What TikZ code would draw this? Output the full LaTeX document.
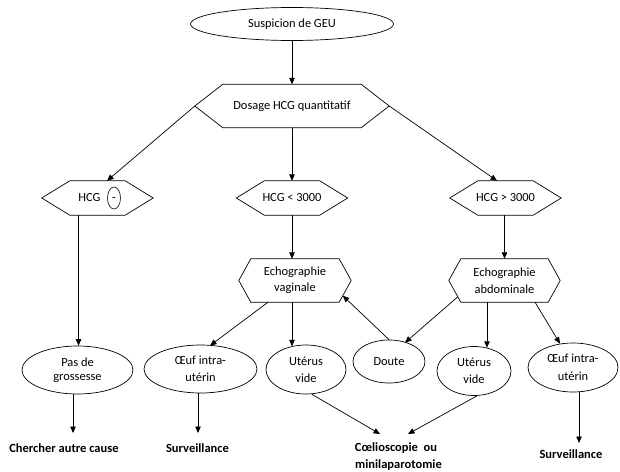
\documentclass[tikz,border=0pt]{standalone}
\usepackage{fontspec}
\setmainfont{Carlito}
\usetikzlibrary{shapes.geometric,arrows.meta,calc}
\newcommand{\hexshape}[2]{%
  \draw[lw] (#1.west) -- ($(#1.north west)+(#2,0)$) -- ($(#1.north east)+(-#2,0)$) -- (#1.east)
    -- ($(#1.south east)+(-#2,0)$) -- ($(#1.south west)+(#2,0)$) -- cycle;}
\begin{document}
\begin{tikzpicture}[x=1pt,y=-1pt,
  lw/.style={line width=0.7pt},
  arr/.style={line width=0.7pt,-{Triangle[length=6.5pt,width=5.5pt]}},
  txt/.style={font=\fontsize{12.4}{14}\selectfont},
  ell/.style={ellipse,draw,line width=0.7pt,inner sep=0pt,align=center,txt},
  hexbox/.style={rectangle,inner sep=0pt,align=center,txt},
  btext/.style={font=\fontsize{12.5}{15}\selectfont\bfseries,inner sep=0pt,text height=8.5pt,text depth=2.5pt}]
\useasboundingbox (0,0) rectangle (620,471);
% top
\node[ell,minimum width=203pt,minimum height=33pt] (susp) at (292,24) {Suspicion de GEU};
\node[hexbox,minimum width=194pt,minimum height=43pt] (dosage) at (292,106) {Dosage HCG quantitatif};
\hexshape{dosage}{28}
% HCG level
\node[hexbox,minimum width=111pt,minimum height=34pt] (hcgneg) at (97.5,198) {};
\hexshape{hcgneg}{28}
\node[txt,inner sep=0pt] (hcgtxt) at (89.5,198) {HCG};
\node[ellipse,draw,line width=0.6pt,inner sep=0pt,minimum width=13pt,minimum height=22pt,txt,text height=7pt,text depth=0pt] (minus) at (114,198) {-};
\node[hexbox,minimum width=111pt,minimum height=34pt] (hcglt) at (292,198) {HCG < 3000};
\hexshape{hcglt}{28}
\node[hexbox,minimum width=111pt,minimum height=34pt] (hcggt) at (505.5,198) {HCG > 3000};
\hexshape{hcggt}{28}
% echographies
\node[hexbox,minimum width=112pt,minimum height=43pt,font=\fontsize{12.4}{16}\selectfont] (echov) at (295,280.5) {Echographie\\vaginale};
\hexshape{echov}{12}
\node[hexbox,minimum width=111pt,minimum height=43pt,font=\fontsize{12.4}{16.5}\selectfont] (echoa) at (504.5,280.5) {Echographie\\abdominale};
\hexshape{echoa}{12}
% ellipses row
\node[ell,minimum width=111pt,minimum height=48pt] (pas) at (77.5,370) {Pas de\\grossesse};
\node[ell,minimum width=113pt,minimum height=48pt,font=\fontsize{12.4}{17}\selectfont] (oeufL) at (200.5,369) {Œuf intra-\\utérin};
\node[ell,minimum width=80pt,minimum height=49pt,font=\fontsize{12.4}{17}\selectfont] (uterL) at (306,369.5) {Utérus\\vide};
\node[ell,minimum width=72pt,minimum height=43pt] (doute) at (389,361.5) {Doute};
\node[ell,minimum width=74pt,minimum height=49pt,font=\fontsize{12.4}{17.5}\selectfont] (uterR) at (474,371) {Utérus\\vide};
\node[ell,minimum width=90pt,minimum height=49pt,font=\fontsize{12.4}{17.5}\selectfont] (oeufR) at (573,367.5) {Œuf intra-\\utérin};
% bottom texts
\node[btext] (chercher) at (64,449) {Chercher autre cause};
\node[btext] (survL) at (197.5,449) {Surveillance};
\node[btext] (coelio) at (396,448) {Cœlioscopie\ \ ou};
\node[btext] (minilap) at (398.5,465) {minilaparotomie};
\node[btext] (survR) at (571,455) {Surveillance};
% arrow end coordinates
\coordinate (tChercher) at ($(chercher.center)+(9,-16)$);
\coordinate (tSurvL) at ($(survL.center)+(0.5,-16)$);
\coordinate (tCoelA) at ($(coelio.center)+(-16,-14)$);
\coordinate (tCoelB) at ($(coelio.center)+(12,-14)$);
\coordinate (tSurvR) at ($(survR.center)+(8,-12)$);
% connectors
\draw[arr] (susp.south) -- (dosage.north);
\draw[arr] (dosage.west) -- ($(hcgneg.north)+(9.5,0)$);
\draw[arr] (dosage.south) -- (hcglt.north);
\draw[arr] (dosage.east) -- ($(hcggt.north)+(-8.5,0)$);
\draw[arr] ($(hcgneg.south)+(-19,0)$) -- ($(pas.north)+(1,0)$);
\draw[arr] (hcglt.south) -- (hcglt.south |- echov.north);
\draw[arr] ($(hcggt.south)+(-1,0)$) -- (echoa.north);
\draw[arr] ($(echov.south)+(-27,0)$) -- ($(oeufL.north)+(9.5,1)$);
\draw[arr] ($(echov.south)+(-3,0)$) -- ($(uterL.north)+(-14,1.6)$);
\draw[arr] (doute.north) -- ($(echov.east)!0.7!($(echov.south east)+(-12,0)$)$);
\draw[arr] ($(echoa.west)!0.75!($(echoa.south west)+(12,0)$)$) -- ($(doute.north)+(16,3)$);
\draw[arr] ($(echoa.south)+(-17.5,0)$) -- ($(uterR.north)+(13,1.6)$);
\draw[arr] ($(echoa.south)+(30.5,0)$) -- ($(oeufR.north)+(-13,1)$);
\draw[arr] ($(pas.south)+(-4.5,0)$) -- (tChercher);
\draw[arr] ($(oeufL.south)+(-2.5,0)$) -- (tSurvL);
\draw[arr] ($(uterL.south)+(6,0)$) -- (tCoelA);
\draw[arr] ($(uterR.south)+(3,0)$) -- (tCoelB);
\draw[arr] ($(oeufR.south)+(6,0)$) -- (tSurvR);
\end{tikzpicture}
\end{document}
